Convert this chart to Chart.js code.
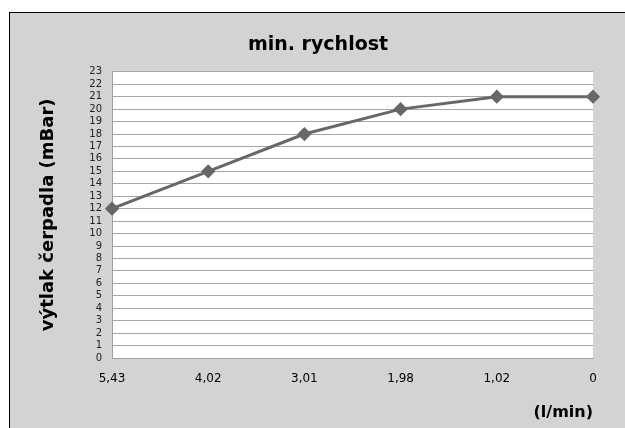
<!DOCTYPE html>
<html>
<head>
<meta charset="utf-8">
<script src="https://cdn.jsdelivr.net/npm/chart.js@4/dist/chart.umd.min.js"></script>
<style>
  body { margin: 0; background: #fff; }
  #box {
    position: absolute; left: 9px; top: 12px;
    width: 616px; height: 416px;
    background: #d3d3d3;
    border-left: 1px solid #000; border-top: 1px solid #000;
  }
  #chart { display: block; }
</style>
</head>
<body>
<div id="box"><canvas id="chart" width="616" height="416"></canvas></div>
<script>
// data
const flowLabels = ['5,43', '4,02', '3,01', '1,98', '1,02', '0'];
const pressure = [12, 15, 18, 20, 21, 21];
const yMin = 0, yMax = 23;

// white plot area
const plotBg = {
    id: 'plotBg',
    beforeDraw: (chart) => {
        const { ctx, chartArea: a } = chart;
        ctx.save();
        ctx.fillStyle = '#ffffff';
        ctx.fillRect(a.left, a.top, a.right - a.left, a.bottom - a.top);
        ctx.restore();
    }
};

const fontFam = '"DejaVu Sans", sans-serif';

let chartPump = new Chart(document.getElementById('chart').getContext('2d'), {
    type: 'line',
    data: {
        labels: flowLabels,
        datasets: [{
            data: pressure,
            borderColor: '#676767',
            backgroundColor: '#676767',
            borderWidth: 3,
            pointStyle: 'rectRot',
            pointRadius: 5,
            pointHoverRadius: 5,
            tension: 0
        }]
    },
    options: {
        responsive: false,
        animation: false,
        layout: { padding: 0 },
        plugins: {
            legend: { display: false },
            tooltip: { enabled: false },
            title: {
                display: true,
                text: 'min. rychlost',
                color: '#000',
                font: { family: fontFam, size: 19, weight: 'bold' },
                padding: { top: 21, bottom: 15 }
            }
        },
        scales: {
            x: {
                offset: false,
                grid: { display: false, drawTicks: false },
                border: { color: '#a0a0a0', width: 1 },
                ticks: {
                    color: '#000',
                    font: { family: fontFam, size: 12 },
                    padding: 14,
                    maxRotation: 0,
                    autoSkip: false
                },
                title: {
                    display: true,
                    text: '(l/min)',
                    align: 'end',
                    color: '#000',
                    font: { family: fontFam, size: 16, weight: 'bold' },
                    padding: { top: 0, bottom: 7 }
                },
                afterFit: (s) => { s.height = 71; }
            },
            y: {
                min: yMin,
                max: yMax,
                grid: { color: '#a6a6a6', lineWidth: 1, drawTicks: false },
                border: { color: '#a0a0a0', width: 1 },
                ticks: {
                    stepSize: 1,
                    autoSkip: false,
                    color: '#222',
                    font: { family: fontFam, size: 10, lineHeight: 1 },
                    padding: 10
                },
                title: {
                    display: true,
                    text: 'výtlak čerpadla (mBar)',
                    color: '#000',
                    font: { family: fontFam, size: 18, weight: 'bold' },
                    padding: { top: 28, bottom: 0 }
                },
                afterFit: (s) => { s.width = 102; }
            },
            // empty right axis keeps the gap on the right so the title stays centred
            yRight: {
                position: 'right',
                display: true,
                grid: { display: false, drawTicks: false },
                border: { display: false },
                ticks: { display: false },
                afterFit: (s) => { s.width = 33; }
            }
        }
    },
    plugins: [plotBg]
});
</script>
</body>
</html>
